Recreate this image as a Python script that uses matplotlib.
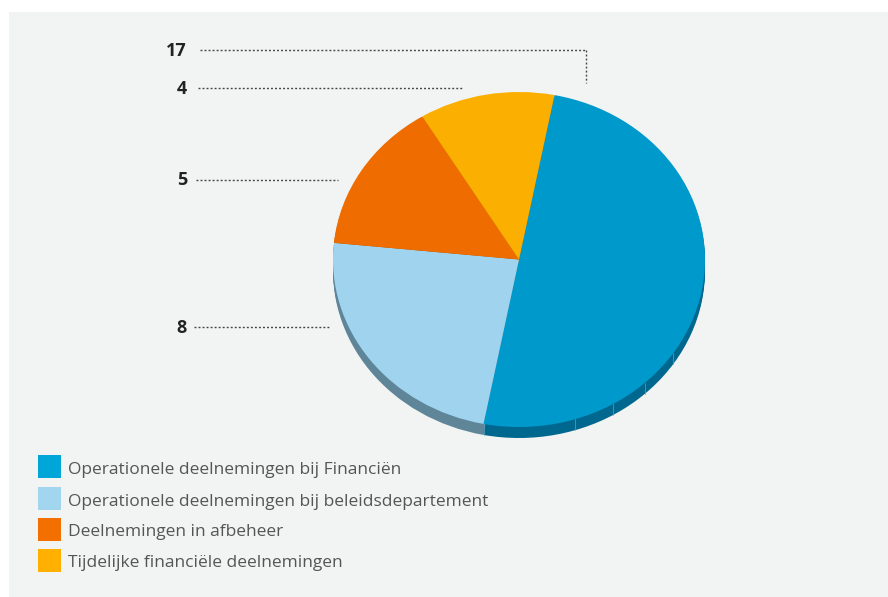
import numpy as np
import matplotlib
matplotlib.use("Agg")
import matplotlib.pyplot as plt
from matplotlib.patches import Rectangle

W, H = 888, 597

labels = ["Operationele deelnemingen bij Financiën",
          "Operationele deelnemingen bij beleidsdepartement",
          "Deelnemingen in afbeheer",
          "Tijdelijke financiële deelnemingen"]
values = [17, 8, 5, 4]
top_colors = ["#0099cc", "#a0d4ee", "#ef6d00", "#fbaf00"]
side_colors = ["#00688f", "#5f8599", "#a34a00", "#a87500"]
legend_colors = ["#00a6d8", "#a2d6ef", "#f26f00", "#ffb000"]
seam_angles = [-101.0, -72.5, -59.6, -47.4, -34.0]

plt.rcParams["font.family"] = ["Open Sans", "DejaVu Sans"]

fig = plt.figure(figsize=(W / 100, H / 100), dpi=100, facecolor="white")

# pixel-coordinate layer for panel, leaders and legend
bg = fig.add_axes([0, 0, 1, 1])
bg.set_xlim(0, W)
bg.set_ylim(H, 0)
bg.axis("off")
bg.add_patch(Rectangle((9, 12), W - 9, H - 12, fc="#f2f4f3", ec="none"))

# pie layer, flattened into an ellipse by the axes box
cx, cy, rx, ry = 519, 259.5, 186, 167.5
depth = 11
ax = fig.add_axes([(cx - rx) / W, 1 - (cy + ry + depth) / H, 2 * rx / W, (2 * ry + depth) / H])
d = depth / ry
start = 79
ax.pie(values, colors=side_colors, startangle=start, counterclock=False, radius=1,
       center=(0, -d), wedgeprops=dict(linewidth=0), normalize=True)
# fill between base and top so the rim is solid
for off in np.linspace(0, d, 7)[1:-1]:
    ax.pie(values, colors=side_colors, startangle=start, counterclock=False, radius=1,
           center=(0, -off), wedgeprops=dict(linewidth=0))
for a in seam_angles:
    x = np.cos(np.radians(a))
    y = np.sin(np.radians(a))
    ax.plot([x, x], [y, y - d], color="#5fa3bd", lw=0.5)
ax.pie(values, colors=top_colors, startangle=start, counterclock=False, radius=1,
       center=(0, 0), wedgeprops=dict(linewidth=0))
ax.set_aspect("auto")
ax.set_xlim(-1, 1)
ax.set_ylim(-1 - d, 1)
ax.axis("off")

# leader lines
numbers = ["17", "4", "5", "8"]
num_x = [187, 187, 187, 187]
num_y = [50, 88, 179.5, 327]
line_x0 = [200, 198, 196, 194]
line_x1 = [586, 463, 338, 329]
dots = (0, (1.4, 1.5))
for n, tx, ty, x0, x1 in zip(numbers, num_x, num_y, line_x0, line_x1):
    bg.text(tx, ty + 0.8, n, ha="right", va="center", fontsize=13, fontweight="bold", color="#222222")
    bg.plot([x0, x1], [ty, ty], color="#444444", lw=1, ls=dots)
bg.plot([586, 586], [50, 83], color="#444444", lw=1, ls=dots)

# legend
box_y = [455, 487, 518, 549]
text_y = [470, 501.5, 532, 563]
for lab, c, by, ty in zip(labels, legend_colors, box_y, text_y):
    bg.add_patch(Rectangle((38, by), 23, 23, fc=c, ec="none"))
    bg.text(68, ty, lab, ha="left", va="center", fontsize=12.55, color="#555555")

fig.savefig("out.png", dpi=100)
